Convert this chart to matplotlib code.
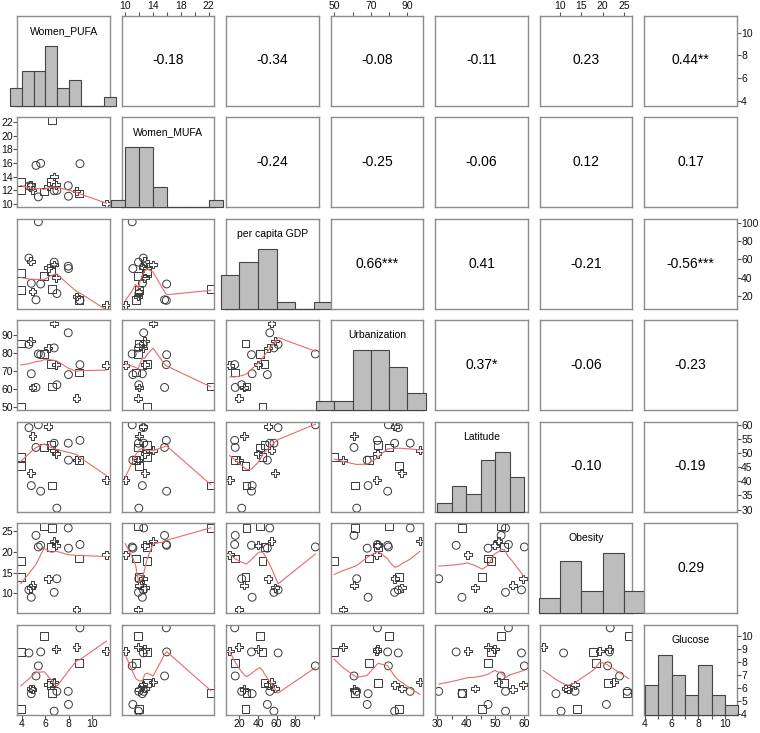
import numpy as np
import matplotlib
matplotlib.use('Agg')
import matplotlib.pyplot as plt

plt.rcParams['font.family'] = ['Liberation Sans', 'DejaVu Sans']

# variables (23 countries)
names = ['Women_PUFA', 'Women_MUFA', 'per capita GDP', 'Urbanization',
         'Latitude', 'Obesity', 'Glucose']

pufa = [3.9, 3.9, 4.6, 4.75, 4.8, 4.9, 5.2, 5.4, 5.6, 5.9, 6.25, 6.45, 6.6,
        6.75, 6.75, 6.9, 6.98, 7.95, 7.97, 8.65, 8.9, 8.95, 11.2]
mufa = [13.15, 11.97, 12.6, 12.8, 12.46, 12.0, 15.65, 11.0, 15.95, 11.8,
        12.56, 13.15, 22.3, 14.0, 11.9, 12.8, 11.95, 12.65, 11.1, 11.85,
        11.5, 15.9, 10.0]
gdp = [44.8, 26.6, 61.5, 58.0, 33.7, 24.8, 15.6, 101.4, 33.0, 42.0, 51.0,
       47.0, 27.6, 54.4, 57.0, 40.0, 22.5, 52.6, 50.0, 19.2, 15.2, 15.0, 9.7]
urban = [50.0, 85.5, 85.0, 86.8, 68.5, 60.8, 60.8, 79.6, 79.2, 79.8, 83.0,
         74.0, 61.3, 96.8, 83.0, 73.6, 62.3, 91.5, 68.0, 54.7, 69.2, 73.6, 73.2]
latitude = [48.5, 45.5, 59.0, 43.0, 38.5, 56.0, 52.0, 60.0, 36.5, 52.0, 59.5,
            53.0, 38.5, 51.0, 53.5, 49.8, 30.5, 53.5, 47.5, 47.5, 47.5, 54.5,
            40.5]
obesity = [17.8, 13.9, 10.8, 11.3, 9.0, 11.9, 24.0, 21.2, 21.6, 26.2, 13.5,
           21.2, 25.8, 22.6, 10.2, 21.6, 13.5, 25.8, 20.9, 6.0, 18.4, 21.8,
           19.3]
glucose = [8.78, 4.39, 8.7, 5.95, 5.55, 5.88, 6.92, 7.7, 8.78, 10.0, 6.25,
           6.4, 5.6, 6.45, 4.2, 9.0, 5.73, 5.73, 4.72, 9.17, 7.9, 10.64, 8.86]
point_shape = ['s', 's', 'o', 'P', 'o', 'P', 'o', 'o', 'o', 's', 'P', 's',
               's', 'P', 'o', 'P', 'o', 'o', 'o', 'P', 's', 'o', 'P']

data = [pufa, mufa, gdp, urban, latitude, obesity, glucose]

# histogram breaks
breaks = [list(range(3, 13)), list(range(8, 25, 2)), list(range(0, 121, 20)),
          list(range(40, 101, 10)), list(range(30, 61, 5)),
          list(range(5, 31, 5)), list(range(4, 12))]

# correlations printed in the upper triangle (row by row)
corr_text = ['-0.18', '-0.34', '-0.08', '-0.11', '0.23', '0.44**',
             '-0.24', '-0.25', '-0.06', '0.12', '0.17',
             '0.66***', '0.41', '-0.21', '-0.56***',
             '0.37*', '-0.06', '-0.23',
             '-0.10', '-0.19',
             '0.29']

# axis ticks: outer-x labels (some dropped like R does) and outer-y labels
ticks = [[4, 6, 8, 10], list(range(10, 23, 2)), [20, 40, 60, 80, 100],
         [50, 60, 70, 80, 90], list(range(30, 61, 5)), [10, 15, 20, 25],
         list(range(4, 11))]
x_labels = [['4', '6', '8', '10'],
            ['10', '', '14', '', '18', '', '22'],
            ['20', '40', '60', '80', ''],
            ['50', '', '70', '', '90'],
            ['30', '', '40', '', '50', '', '60'],
            ['10', '15', '20', '25'],
            ['4', '', '6', '', '8', '', '10']]


def lowess(x, y, f=2/3, iters=3):
    order = np.argsort(x, kind='mergesort')
    x = np.asarray(x, float)[order]
    y = np.asarray(y, float)[order]
    n = len(x)
    ns = max(min(int(f * n + 1e-7), n), 2)
    rw = np.ones(n)
    fit = np.zeros(n)
    for it in range(iters + 1):
        for i in range(n):
            d = np.abs(x - x[i])
            h = np.sort(d)[ns - 1]
            if h <= 0:
                w = (d == 0).astype(float)
            else:
                u = d / h
                w = np.where(u < 1, (1 - u ** 3) ** 3, 0.0)
            w = w * rw
            sw = w.sum()
            if sw <= 0:
                fit[i] = y[i]
                continue
            w = w / sw
            xm = (w * x).sum()
            var = (w * (x - xm) ** 2).sum()
            b = 0.0
            if h > 0 and np.sqrt(var) > 0.001 * (x[-1] - x[0]):
                b = (w * (x - xm) * (y - (w * y).sum())).sum() / var
            fit[i] = (w * y).sum() + b * (x[i] - xm)
        res = y - fit
        s = np.median(np.abs(res))
        if s == 0:
            break
        u = res / (6 * s)
        rw = np.where(np.abs(u) < 1, (1 - u ** 2) ** 2, 0.0)
    return x, fit


def hist_counts(v, br):
    v = np.asarray(v)
    out = []
    for k in range(len(br) - 1):
        if k == 0:
            out.append(np.sum((v >= br[0]) & (v <= br[1])))
        else:
            out.append(np.sum((v > br[k]) & (v <= br[k + 1])))
    return np.array(out)


nv = len(data)
lims = []
for v in data:
    lo, hi = min(v), max(v)
    r = hi - lo
    lims.append((lo - 0.04 * r, hi + 0.04 * r))

fig = plt.figure(figsize=(7.6, 7.33), dpi=100)
W, H = 760.0, 733.0
box_col = '#8c8c8c'
tick_kw = dict(length=2.6, width=0.8, color='#555555', labelsize=7.5,
               labelcolor='#111111', pad=0.6)

k = 0
for i in range(nv):
    for j in range(nv):
        left = 17.3 + 104.5 * j
        top = 15.5 + 101.5 * i
        ax = fig.add_axes([left / W, 1 - (top + 90) / H, 92.5 / W, 90 / H])
        ax.set_xlim(lims[j])
        ax.set_xticks([])
        ax.set_yticks([])
        for sp in ax.spines.values():
            sp.set_color(box_col)
            sp.set_linewidth(1.0)

        if i == j:
            cnt = hist_counts(data[i], breaks[i])
            br = np.array(breaks[i])
            ax.bar(br[:-1], cnt, width=np.diff(br), align='edge',
                   color='#bdbdbd', edgecolor='#444444', linewidth=0.8,
                   clip_on=False, zorder=3)
            ax.set_ylim(0, 1.5 * cnt.max())
            ax.text(0.5, 0.83, names[i], transform=ax.transAxes,
                    ha='center', va='center', fontsize=7.5)
        elif i > j:
            ax.set_ylim(lims[i])
            xv = np.array(data[j])
            yv = np.array(data[i])
            for mk in ['o', 's', 'P']:
                sel = np.array([m == mk for m in point_shape])
                ax.scatter(xv[sel], yv[sel], marker=mk, s=32,
                           facecolors='none', edgecolors='#3a3a3a',
                           linewidths=0.7, zorder=2)
            lx, ly = lowess(xv, yv)
            ax.plot(lx, ly, color='#e86a6a', lw=0.8, zorder=3)
        else:
            ax.set_ylim(lims[i])
            ax.text(0.5, 0.5, corr_text[k], transform=ax.transAxes,
                    ha='center', va='center', fontsize=10)
            k += 1

        # outer axes, alternating like R pairs()
        if i == 0 and j % 2 == 1:
            ax.xaxis.tick_top()
            ax.set_xticks(ticks[j])
            ax.set_xticklabels(x_labels[j])
            ax.tick_params(axis='x', **tick_kw)
        if i == nv - 1 and j % 2 == 0:
            ax.set_xticks(ticks[j])
            ax.set_xticklabels(x_labels[j])
            ax.tick_params(axis='x', **tick_kw)
        if j == 0 and i % 2 == 1:
            ax.set_yticks(ticks[i])
            ax.set_yticklabels([str(t) for t in ticks[i]])
            ax.tick_params(axis='y', **tick_kw)
        if j == nv - 1 and i % 2 == 0:
            yax = ax
            if i == j:
                yax = ax.twinx()
                yax.set_ylim(lims[i])
                for sp in yax.spines.values():
                    sp.set_visible(False)
            yax.yaxis.tick_right()
            yax.set_yticks(ticks[i])
            yax.set_yticklabels([str(t) for t in ticks[i]])
            yax.tick_params(axis='y', **tick_kw)

fig.savefig('out.png', dpi=100)
